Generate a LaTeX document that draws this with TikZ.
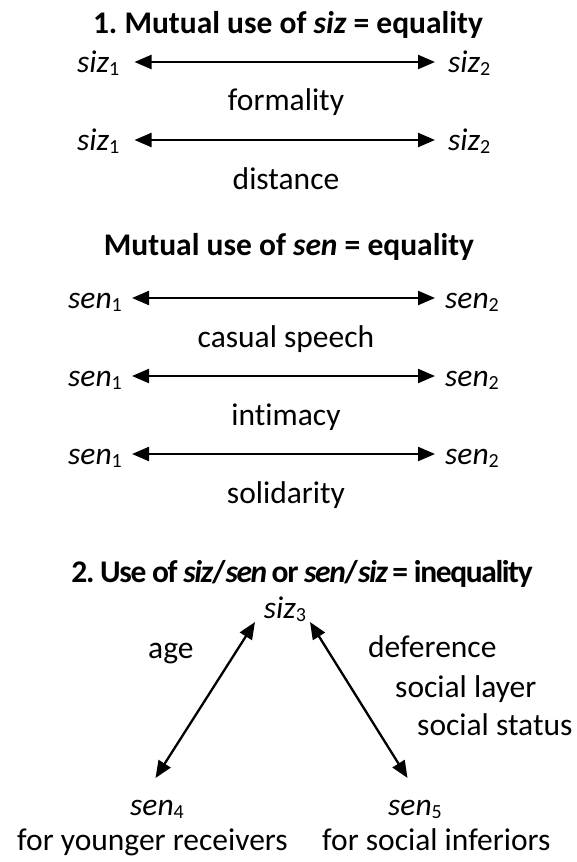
\documentclass[tikz,border=0pt]{standalone}
\usepackage{fontspec}
\setmainfont[Ligatures=NoCommon]{Carlito}
\usetikzlibrary{arrows.meta}
\frenchspacing
\newcommand\subd[1]{\raisebox{-3pt}{\fontsize{20}{20}\selectfont #1}}
\tikzset{
  txt/.style={inner sep=0pt, font=\fontsize{31.5}{37}\selectfont},
  lbl/.style={txt, anchor=base west},
  ctr/.style={txt, anchor=base},
  ttl/.style={inner sep=0pt, anchor=base, font=\fontsize{31.5}{37}\selectfont\bfseries},
  dbl/.style={line width=2.3pt, {Triangle[length=17pt,width=14pt]}-{Triangle[length=17pt,width=14pt]}}
}
\begin{document}
\begin{tikzpicture}[x=1pt,y=-1pt]
\useasboundingbox (0,0) rectangle (576,862);
% section 1
\node[ttl] (t1) at (288,33) {1. Mutual use of \textit{siz} = equality};
\node[lbl] (a1) at (77,72) {\textit{siz}\subd{1}};
\node[lbl] (a2) at (448,72) {\textit{siz}\subd{2}};
\node[ctr] (f1) at (286,110) {formality};
\node[lbl] (b1) at (77,150) {\textit{siz}\subd{1}};
\node[lbl] (b2) at (448,150) {\textit{siz}\subd{2}};
\node[ctr] (f2) at (286,189) {distance};
\draw[dbl] ([shift={(15,-10)}]a1.base east) -- ([shift={(-13,-10)}]a2.base west);
\draw[dbl] ([shift={(15,-10)}]b1.base east) -- ([shift={(-13,-10)}]b2.base west);
% sen
\node[ttl] (t2) at (289,255) {Mutual use of \textit{sen} = equality};
\node[lbl] (c1) at (68,308) {\textit{sen}\subd{1}};
\node[lbl] (c2) at (445,308) {\textit{sen}\subd{2}};
\node[ctr] (g1) at (286,347) {casual speech};
\node[lbl] (d1) at (68,386) {\textit{sen}\subd{1}};
\node[lbl] (d2) at (445,386) {\textit{sen}\subd{2}};
\node[ctr] (g2) at (286,425) {intimacy};
\node[lbl] (e1) at (68,464) {\textit{sen}\subd{1}};
\node[lbl] (e2) at (445,464) {\textit{sen}\subd{2}};
\node[ctr] (g3) at (286,503) {solidarity};
\draw[dbl] ([shift={(10,-10)}]c1.base east) -- ([shift={(-10,-10)}]c2.base west);
\draw[dbl] ([shift={(10,-10)}]d1.base east) -- ([shift={(-10,-10)}]d2.base west);
\draw[dbl] ([shift={(10,-10)}]e1.base east) -- ([shift={(-10,-10)}]e2.base west);
% section 2
\node[ttl] (t3) at (302,582) {\addfontfeature{LetterSpace=-4.4}2. Use of \textit{siz}/\textit{sen} or \textit{sen}/\textit{siz} = inequality};
\node[ctr] (s3) at (285,618) {\textit{siz}\subd{3}};
\node[lbl] (age) at (148,658) {age};
\node[lbl] (def) at (368,657) {deference};
\node[lbl] (lay) at (395,697) {social layer};
\node[lbl] (sta) at (417,735) {social status};
\node[lbl] (s4) at (130,815) {\textit{sen}\subd{4}};
\node[lbl] (r4) at (17,850) {for younger receivers};
\node[lbl] (s5) at (388,815) {\textit{sen}\subd{5}};
\node[lbl] (r5) at (322,850) {for social inferiors};
\draw[dbl] ([shift={(-30,4)}]s3.base) -- ([shift={(-1.5,-37)}]s4.base);
\draw[dbl] ([shift={(25,4)}]s3.base) -- ([shift={(-7.5,-37)}]s5.base);
\end{tikzpicture}
\end{document}
